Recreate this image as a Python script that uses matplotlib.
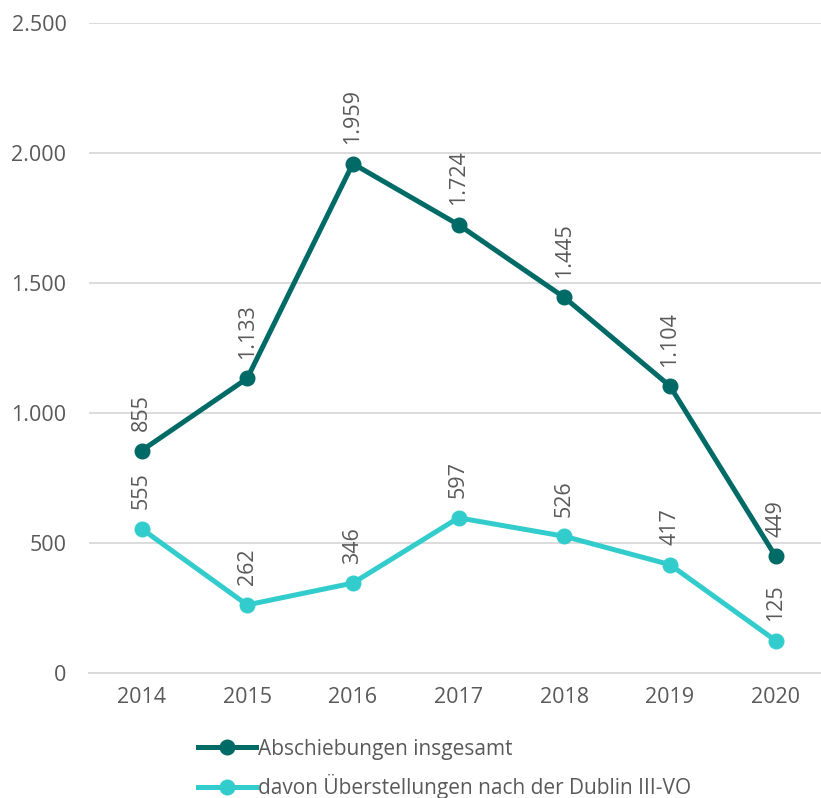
import matplotlib
matplotlib.use("Agg")
import matplotlib.pyplot as plt
from matplotlib.ticker import FuncFormatter

years = ["2014", "2015", "2016", "2017", "2018", "2019", "2020"]
total = [855, 1133, 1959, 1724, 1445, 1104, 449]
dublin = [555, 262, 346, 597, 526, 417, 125]

DARK = "#006A66"
LIGHT = "#33CCCC"
GREY = "#595959"

plt.rcParams["font.family"] = ["Open Sans", "DejaVu Sans"]
FS = 15.5

fig = plt.figure(figsize=(8.21, 7.98), dpi=100)
ax = fig.add_axes([0.108, 0.1566, 0.892, 0.8146])

x = list(range(len(years)))

ax.plot(x, total, color=DARK, linewidth=3.6, marker="o", markersize=10.5,
        label="Abschiebungen insgesamt", zorder=3)
ax.plot(x, dublin, color=LIGHT, linewidth=3.6, marker="o", markersize=10.5,
        label="davon Überstellungen nach der Dublin III-VO", zorder=3)


def fmt(v):
    return f"{v:,}".replace(",", ".")


for series in (total, dublin):
    for xi, v in zip(x, series):
        ax.annotate(fmt(v), (xi, v), xytext=(0, 14), textcoords="offset points",
                    rotation=90, ha="center", va="bottom", fontsize=FS,
                    color=GREY)

ax.set_ylim(0, 2500)
ax.set_yticks(range(0, 2501, 500))
ax.yaxis.set_major_formatter(FuncFormatter(lambda v, p: fmt(int(v))))
ax.set_xlim(-0.5, 6.43)
ax.set_xticks(x)
ax.set_xticklabels(years)

ax.grid(axis="y", color="#D9D9D9", linewidth=1.3)
ax.set_axisbelow(True)
for s in ax.spines.values():
    s.set_visible(False)
ax.spines["bottom"].set_visible(True)
ax.spines["bottom"].set_color("#D9D9D9")
ax.spines["bottom"].set_linewidth(1.3)
ax.tick_params(axis="both", length=0, labelsize=FS, labelcolor=GREY)
ax.tick_params(axis="y", pad=16)
ax.tick_params(axis="x", pad=10)

leg = fig.legend(loc="upper left", bbox_to_anchor=(0.231, 0.085), frameon=False,
                 fontsize=15, labelcolor=GREY, handlelength=2.8,
                 handletextpad=0.1, labelspacing=0.7, borderaxespad=0)

fig.savefig("out.png", dpi=100)
